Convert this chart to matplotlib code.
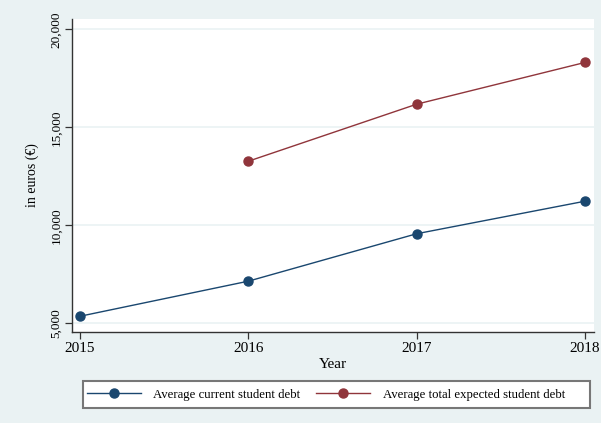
import matplotlib
matplotlib.use("Agg")
import matplotlib.pyplot as plt
from matplotlib.patches import Rectangle
from matplotlib.ticker import FuncFormatter

years = [2015, 2016, 2017, 2018]
current_debt = [5360, 7150, 9570, 11230]
expected_years = [2016, 2017, 2018]
expected_debt = [13270, 16180, 18310]
y_ticks = [5000, 10000, 15000, 20000]

bg = "#eaf2f3"
navy = "#1a476f"
maroon = "#90353b"

plt.rcParams["font.family"] = ["Liberation Serif", "DejaVu Serif"]

W, H = 601, 423
fig = plt.figure(figsize=(W / 100, H / 100), dpi=100, facecolor=bg)
ax = fig.add_axes([72 / W, 91 / H, 522 / W, 313 / H])
ax.set_facecolor("white")

ax.set_axisbelow(True)
ax.yaxis.grid(True, color=bg, linewidth=1.2)
ax.xaxis.grid(False)

ax.plot(years, current_debt, color=navy, lw=1.0, marker="o", ms=6.5,
        mec=navy, mfc=navy, label="Average current student debt")
ax.plot(expected_years, expected_debt, color=maroon, lw=1.0, marker="o", ms=6.5,
        mec=maroon, mfc=maroon, label="Average total expected student debt")

ax.set_xlim(2014.952, 2018.053)
ax.set_ylim(4556, 20525)
ax.set_xticks(years)
ax.set_yticks(y_ticks)
ax.yaxis.set_major_formatter(FuncFormatter(lambda v, p: f"{int(v):,}"))

for s in ["top", "right"]:
    ax.spines[s].set_visible(False)
for s in ["left", "bottom"]:
    ax.spines[s].set_color("#333333")
    ax.spines[s].set_linewidth(1.0)

ax.tick_params(axis="both", direction="out", length=5, width=0.9, color="#333333")
ax.tick_params(axis="x", labelsize=11, pad=2)
ax.tick_params(axis="y", labelsize=9.5, pad=2)
for lab in ax.get_yticklabels():
    lab.set_rotation(90)
    lab.set_va("center")

ax.set_xlabel("Year", fontsize=11, labelpad=2)
ax.set_ylabel("in euros (€)", fontsize=10, labelpad=8)

# legend box
fig.patches.append(Rectangle((83 / W, 15 / H), 507 / W, 27 / H,
                             transform=fig.transFigure, facecolor="white",
                             edgecolor="#777777", linewidth=1.5, zorder=1))
leg = fig.legend(loc="center left", ncol=2, mode="expand",
                 bbox_to_anchor=(87 / W, 28.5 / H, 478 / W, 0),
                 fontsize=9.2, frameon=False, borderaxespad=0, borderpad=0,
                 handlelength=4.2, handletextpad=1.0, columnspacing=1.0)
leg.set_zorder(2)

fig.savefig("out.png", dpi=100, facecolor=bg)
